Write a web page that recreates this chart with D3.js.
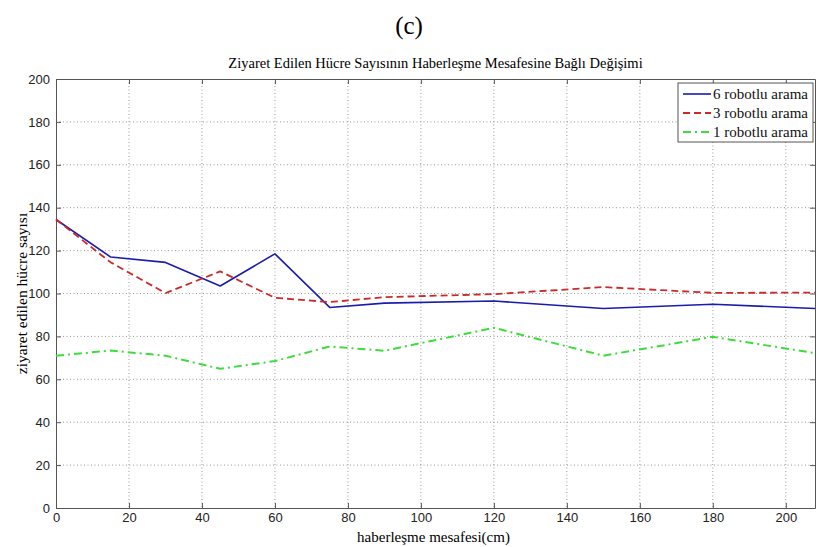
<!DOCTYPE html>
<html>
<head>
<meta charset="utf-8">
<script src="https://cdn.jsdelivr.net/npm/d3@7"></script>
<style>
  body { margin: 0; background: #fff; }
  .grid line { stroke: #999; stroke-dasharray: 1,2.5; }
  .tick text { font-family: Arial, "Liberation Sans", sans-serif; font-size: 13px; fill: #222; }
</style>
</head>
<body>
<div id="chart"></div>
<script>
// x positions (haberleşme mesafesi, cm)
const distances = [0, 15, 30, 45, 60, 75, 90, 120, 150, 180, 208]
const robot6 = [134.5, 117, 114.5, 103.5, 118.5, 93.5, 95.5, 96.5, 93, 95, 93]
const robot3 = [134.5, 114.5, 100.2, 110.3, 98, 96, 98.3, 99.7, 103, 100.3, 100.4]
const robot1 = [71, 73.4, 71, 64.9, 68.5, 75.3, 73.3, 84, 71, 79.8, 72.2]
const xTicks = [0, 20, 40, 60, 80, 100, 120, 140, 160, 180, 200]
const yTicks = [0, 20, 40, 60, 80, 100, 120, 140, 160, 180, 200]
const seriesNames = ['6 robotlu arama', '3 robotlu arama', '1 robotlu arama']

const svgWidth = 818
const svgHeight = 547
const margin = { left: 56, right: 3, top: 79, bottom: 39 }
const width = svgWidth - margin.left - margin.right
const height = svgHeight - margin.top - margin.bottom

const svgRoot = d3.select('#chart').append('svg')
    .attr('width', svgWidth)
    .attr('height', svgHeight)

const svg = svgRoot.append('g')
    .attr('transform', `translate(${margin.left},${margin.top})`)

// scales
const x = d3.scaleLinear().domain([0, 208]).range([0, width])
const y = d3.scaleLinear().domain([0, 200]).range([height, 0])

// grid
svg.append('g').attr('class', 'grid')
    .selectAll('line').data(xTicks.slice(1)).join('line')
    .attr('x1', d => x(d)).attr('x2', d => x(d))
    .attr('y1', 0).attr('y2', height)
svg.append('g').attr('class', 'grid')
    .selectAll('line').data(yTicks.slice(1, -1)).join('line')
    .attr('x1', 0).attr('x2', width)
    .attr('y1', d => y(d)).attr('y2', d => y(d))

// axes (matlab style: ticks inside, box all round)
const tickLen = 5
svg.append('g')
    .attr('transform', `translate(0,${height})`)
    .call(d3.axisBottom(x).tickValues(xTicks).tickSizeInner(-tickLen).tickSizeOuter(0).tickPadding(5))
svg.append('g')
    .call(d3.axisLeft(y).tickValues(yTicks).tickSizeInner(-tickLen).tickSizeOuter(0).tickPadding(6))
svg.append('g')
    .call(d3.axisTop(x).tickValues(xTicks).tickSizeInner(-tickLen).tickSizeOuter(0).tickFormat(''))
svg.append('g')
    .attr('transform', `translate(${width},0)`)
    .call(d3.axisRight(y).tickValues(yTicks).tickSizeInner(-tickLen).tickSizeOuter(0).tickFormat(''))
svg.selectAll('.domain, .tick line').attr('stroke', '#555')

// lines
const series = [
    { name: seriesNames[0], values: robot6, color: '#1c1caa', dash: null, width: 1.6 },
    { name: seriesNames[1], values: robot3, color: '#cc2a2a', dash: '7,4', width: 1.8 },
    { name: seriesNames[2], values: robot1, color: '#3ddc3d', dash: '8,4,2,4', width: 2 }
]

const line = d3.line()
    .x((d, i) => x(distances[i]))
    .y(d => y(d))

svg.append('g')
    .selectAll('path')
    .data(series)
    .join('path')
    .attr('d', d => line(d.values))
    .attr('fill', 'none')
    .attr('stroke', d => d.color)
    .attr('stroke-width', d => d.width)
    .attr('stroke-dasharray', d => d.dash)
    .attr('stroke-linejoin', 'round')

// legend
const legend = svg.append('g').attr('transform', `translate(${622},${4})`)
legend.append('rect')
    .attr('x', 0).attr('y', 0)
    .attr('width', 135).attr('height', 59)
    .attr('fill', '#fff').attr('stroke', '#555')
const item = legend.selectAll('g.item')
    .data(series)
    .join('g')
    .attr('class', 'item')
    .attr('transform', (d, i) => `translate(0,${11 + i * 19})`)
item.append('line')
    .attr('x1', 5).attr('x2', 33)
    .attr('stroke', d => d.color)
    .attr('stroke-width', d => d.width)
    .attr('stroke-dasharray', d => d.dash)
item.append('text')
    .attr('x', 35).attr('y', 5)
    .attr('font-family', '"Liberation Serif", "Times New Roman", serif')
    .attr('font-size', 15)
    .attr('fill', '#111')
    .text(d => d.name)

// titles
svgRoot.append('text')
    .attr('x', 409).attr('y', 34)
    .attr('text-anchor', 'middle')
    .attr('font-family', '"Liberation Serif", "Times New Roman", serif')
    .attr('font-size', 25)
    .text('(c)')
svgRoot.append('text')
    .attr('x', margin.left + width / 2).attr('y', 68)
    .attr('text-anchor', 'middle')
    .attr('font-family', '"Liberation Serif", "Times New Roman", serif')
    .attr('font-size', 14.5)
    .text('Ziyaret Edilen Hücre Sayısının Haberleşme Mesafesine Bağlı Değişimi')
svgRoot.append('text')
    .attr('x', margin.left + width / 2 - 2).attr('y', 542)
    .attr('text-anchor', 'middle')
    .attr('font-family', '"Liberation Serif", "Times New Roman", serif')
    .attr('font-size', 15)
    .text('haberleşme mesafesi(cm)')
svgRoot.append('text')
    .attr('transform', `translate(27,${margin.top + height / 2}) rotate(-90)`)
    .attr('text-anchor', 'middle')
    .attr('font-family', '"Liberation Serif", "Times New Roman", serif')
    .attr('font-size', 15.5)
    .text('ziyaret edilen hücre sayısı')
</script>
</body>
</html>
